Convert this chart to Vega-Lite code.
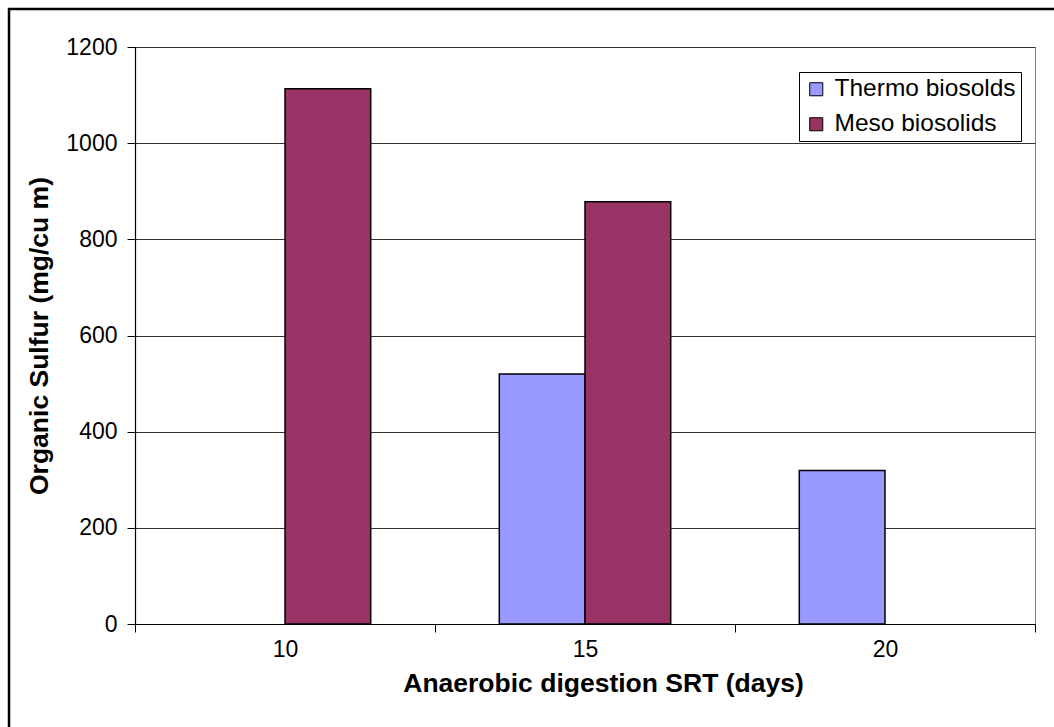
{
  "$schema": "https://vega.github.io/schema/vega-lite/v6.json",
  "width": 900,
  "height": 577,
  "autosize": "none",
  "padding": {"left": 135, "top": 47, "right": 19, "bottom": 103},
  "background": "white",
  "config": {
    "font": "Liberation Sans",
    "view": {"stroke": "#808080", "strokeWidth": 1}
  },
  "layer": [
    {
      "data": {"values": [{}]},
      "mark": {"type": "rect", "fill": null, "stroke": "black", "strokeWidth": 2.5, "clip": false},
      "encoding": {
        "x": {"value": -126},
        "x2": {"value": 1000},
        "y": {"value": -38},
        "y2": {"value": 800}
      }
    },
    {
      "data": {
        "values": [
          {"srt": "10", "series": "Meso biosolids", "sulfur": 1113},
          {"srt": "15", "series": "Thermo biosolds", "sulfur": 520},
          {"srt": "15", "series": "Meso biosolids", "sulfur": 878},
          {"srt": "20", "series": "Thermo biosolds", "sulfur": 319}
        ]
      },
      "mark": {"type": "bar", "stroke": "black", "strokeWidth": 1.5},
      "encoding": {
        "x": {
          "field": "srt",
          "type": "nominal",
          "sort": ["10", "15", "20"],
          "scale": {"paddingInner": 0, "paddingOuter": 0},
          "axis": {
            "title": "Anaerobic digestion SRT (days)",
            "titleFont": "Liberation Sans",
            "titleFontSize": 26.5,
            "titleFontWeight": "bold",
            "titleColor": "black",
            "titlePadding": 9,
            "titleX": 468,
            "titleAlign": "center",
            "labelAngle": 0,
            "labelFontSize": 23,
            "labelColor": "black",
            "labelPadding": 6,
            "tickBand": "extent",
            "tickSize": 8,
            "tickColor": "black",
            "domainColor": "black",
            "domainWidth": 1.2,
            "grid": false
          }
        },
        "xOffset": {
          "field": "series",
          "type": "nominal",
          "scale": {"domain": ["Thermo biosolds", "Meso biosolids"], "paddingInner": 0, "paddingOuter": 0.75}
        },
        "y": {
          "field": "sulfur",
          "type": "quantitative",
          "scale": {"domain": [0, 1200], "nice": false},
          "axis": {
            "title": "Organic Sulfur (mg/cu m)",
            "titleFont": "Liberation Sans",
            "titleFontSize": 26.5,
            "titleFontWeight": "bold",
            "titleColor": "black",
            "titlePadding": 12,
            "values": [0, 200, 400, 600, 800, 1000, 1200],
            "format": "d",
            "labelFontSize": 23,
            "labelColor": "black",
            "labelPadding": 10,
            "tickSize": 8,
            "tickColor": "black",
            "domainColor": "black",
            "domainWidth": 1.2,
            "gridColor": "#333333",
            "gridWidth": 1
          }
        },
        "color": {
          "field": "series",
          "type": "nominal",
          "scale": {"domain": ["Thermo biosolds", "Meso biosolids"], "range": ["#9999FF", "#993366"]},
          "legend": {
            "title": null,
            "orient": "none",
            "legendX": 664,
            "legendY": 25,
            "direction": "vertical",
            "fillColor": "white",
            "strokeColor": "black",
            "padding": 5,
            "cornerRadius": 0,
            "symbolType": "square",
            "symbolSize": 170,
            "symbolStrokeColor": "black",
            "symbolStrokeWidth": 1,
            "symbolOpacity": 1,
            "labelFontSize": 24.5,
            "labelColor": "black",
            "labelOffset": 6,
            "rowPadding": 10,
            "labelLimit": 300
          }
        }
      }
    }
  ]
}
